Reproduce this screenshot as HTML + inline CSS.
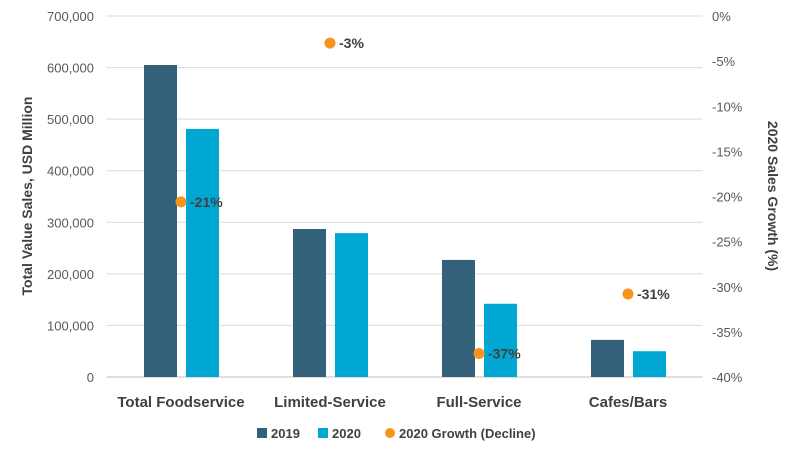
<!DOCTYPE html>
<html><head><meta charset="utf-8"><style>
body{margin:0;background:#fff;}
svg{display:block;font-family:"Liberation Sans",sans-serif;}
</style></head><body>
<svg id="chart" width="791" height="454"></svg>
<script>
const categories=["Total Foodservice","Limited-Service","Full-Service","Cafes/Bars"];
const sales2019=[605000,287000,227000,72000];
const sales2020=[481000,279000,142000,50000];
const growth=[-20.6,-3,-37.4,-30.8];
const growthLabels=["-21%","-3%","-37%","-31%"];
const leftTicks=[0,100000,200000,300000,400000,500000,600000,700000];
const rightTicks=[0,-5,-10,-15,-20,-25,-30,-35,-40];

const NS="http://www.w3.org/2000/svg";
const svg=document.getElementById('chart');
function mk(t,a,p){const e=document.createElementNS(NS,t);for(const k in a)e.setAttribute(k,a[k]);(p||svg).appendChild(e);return e;}
const x0=106.5,x1=702.5,yTop=16,yBot=377;
const band=(x1-x0)/categories.length;
const yL=v=>yBot-(v/700000)*(yBot-yTop);
const yR=v=>yTop+(-v/40)*(yBot-yTop);
const cx=i=>x0+band*(i+0.5);

leftTicks.forEach(v=>{
  const g=mk('line',{x1:x0,x2:x1,y1:yL(v),y2:yL(v),stroke:v===0?'#bfbfbf':'#d9d9d9','stroke-width':1});
  
  
  const t=mk('text',{x:94,y:yL(v)+5,'text-anchor':'end','font-size':13,fill:'#595959'});
  t.textContent=v.toLocaleString('en-US');
  
  
});
rightTicks.forEach(v=>{
  const t=mk('text',{x:712,y:yR(v)+5,'text-anchor':'start','font-size':13,fill:'#595959'});
  t.textContent=v+'%';
  
  
});
categories.forEach((c,i)=>{
  const b1=mk('rect',{x:cx(i)-37,y:yL(sales2019[i]),width:33,height:yBot-yL(sales2019[i]),fill:'#336179'});
  
  
  const b2=mk('rect',{x:cx(i)+5,y:yL(sales2020[i]),width:33,height:yBot-yL(sales2020[i]),fill:'#00a7d3'});
  
  
  const t=mk('text',{x:cx(i),y:407,'text-anchor':'middle','font-size':15,'font-weight':'bold',fill:'#404040'});
  t.textContent=c;
  
  
});
categories.forEach((c,i)=>{
  const d=mk('circle',{cx:cx(i),cy:yR(growth[i]),r:5.5,fill:'#f7941d'});
  
  
  const t=mk('text',{x:cx(i)+9,y:yR(growth[i])+5,'font-size':14,'font-weight':'bold',fill:'#404040'});
  t.textContent=growthLabels[i];
  
  
});
const yt=mk('text',{transform:'translate(32,196) rotate(-90)','text-anchor':'middle','font-size':14,'font-weight':'bold',fill:'#404040'});
yt.textContent='Total Value Sales, USD Million';


const yt2=mk('text',{transform:'translate(768,196) rotate(90)','text-anchor':'middle','font-size':14,'font-weight':'bold',fill:'#404040'});
yt2.textContent='2020 Sales Growth (%)';


const leg=[['rect','#336179','2019',257],['rect','#00a7d3','2020',318],['circle','#f7941d','2020 Growth (Decline)',385]];
leg.forEach(l=>{
  let m;
  if(l[0]==='rect') m=mk('rect',{x:l[3],y:428,width:10,height:10,fill:l[1]});
  else m=mk('circle',{cx:l[3]+5,cy:433,r:5,fill:l[1]});
  
  
  const t=mk('text',{x:l[3]+14,y:438,'font-size':13,'font-weight':'bold',fill:'#404040'});
  t.textContent=l[2];
  
  
});
</script>
</body></html>
